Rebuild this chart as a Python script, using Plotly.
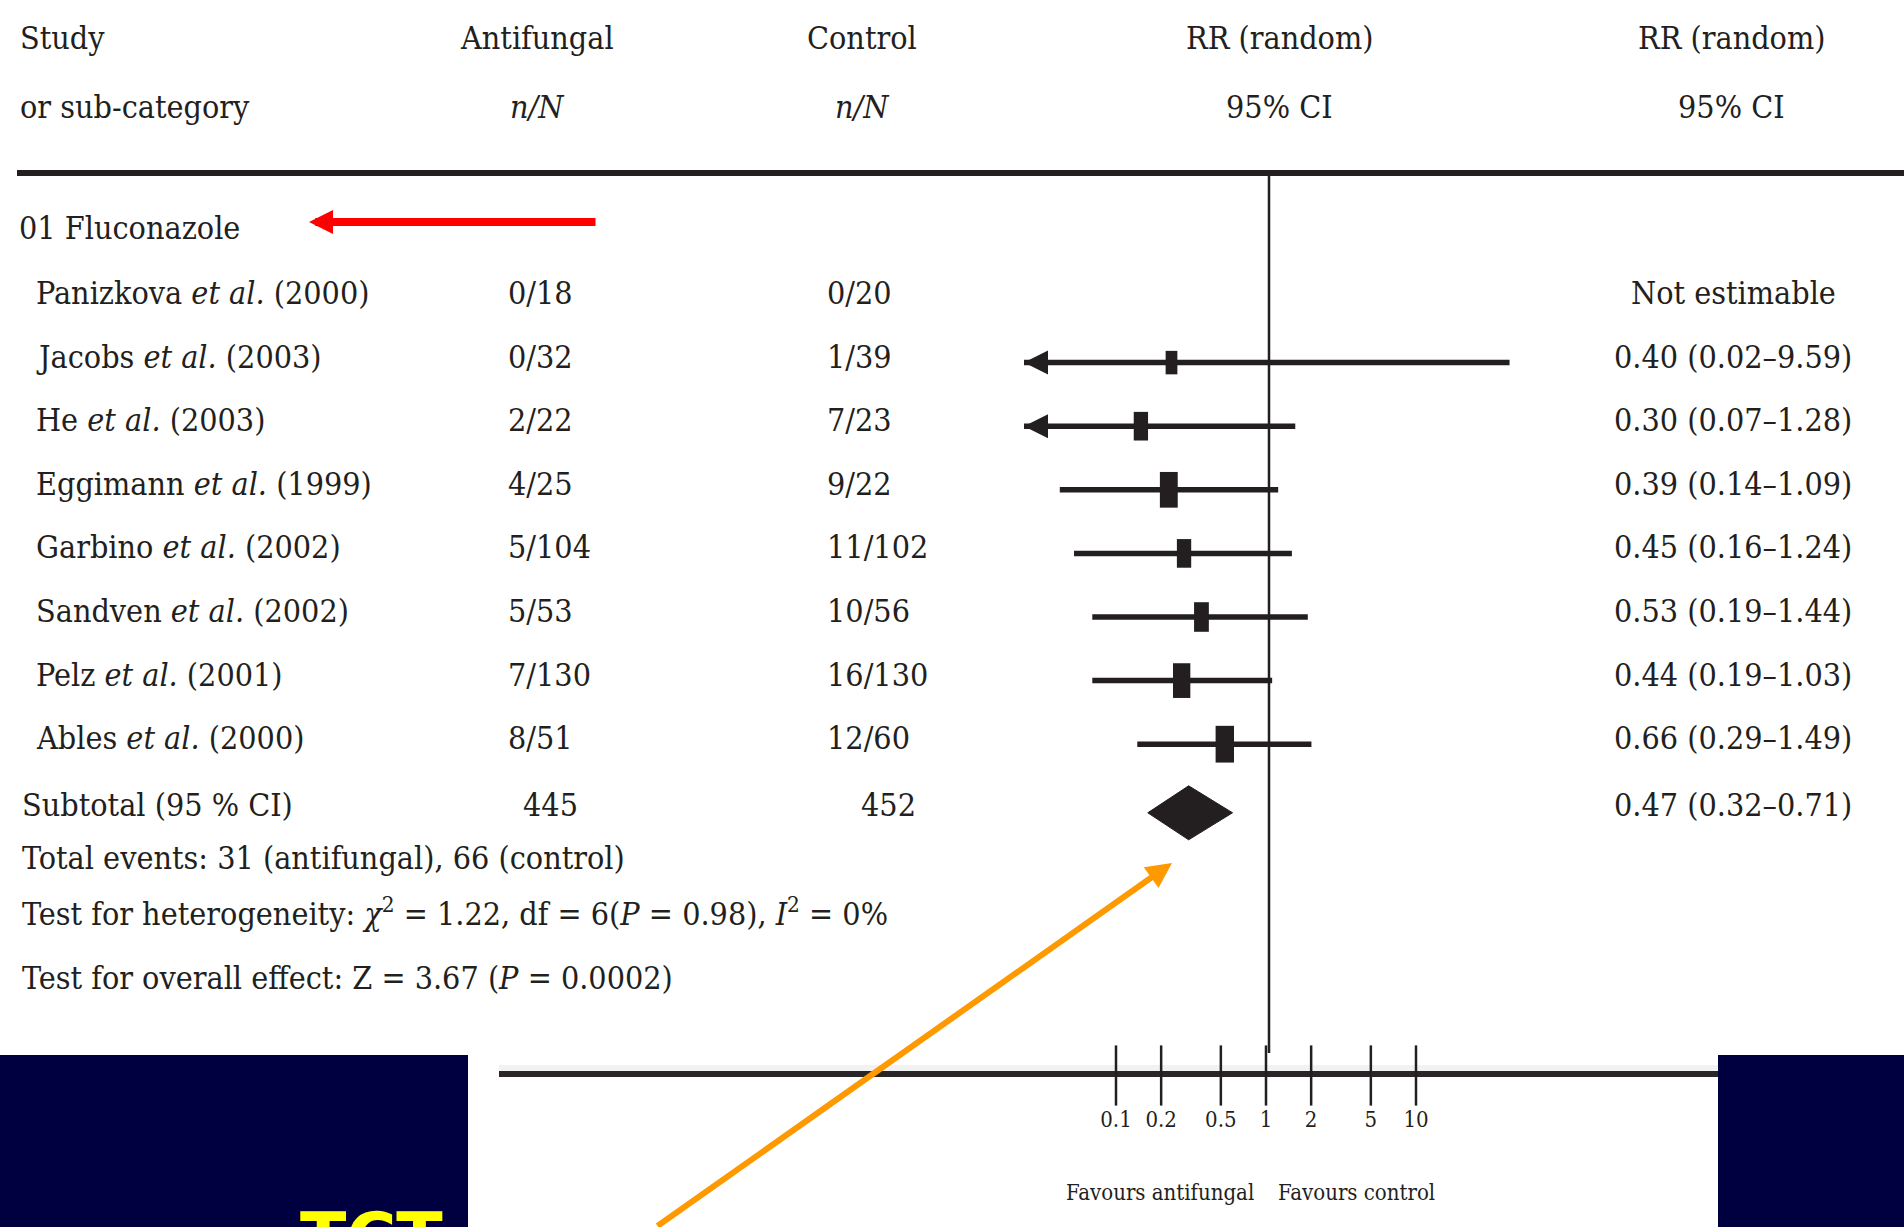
import plotly.graph_objects as go

W, H = 1904, 1227

# ------------------------------------------------------------------ data
group_label = "01 Fluconazole"
study_names = ["Panizkova", "Jacobs", "He", "Eggimann", "Garbino", "Sandven", "Pelz", "Ables"]
study_years = [2000, 2003, 2003, 1999, 2002, 2002, 2001, 2000]
anti_events = [0, 0, 2, 4, 5, 5, 7, 8]
anti_total = [18, 32, 22, 25, 104, 53, 130, 51]
ctrl_events = [0, 1, 7, 9, 11, 10, 16, 12]
ctrl_total = [20, 39, 23, 22, 102, 56, 130, 60]
rr = [None, 0.40, 0.30, 0.39, 0.45, 0.53, 0.44, 0.66]
rr_lo = [None, 0.02, 0.07, 0.14, 0.16, 0.19, 0.19, 0.29]
rr_hi = [None, 9.59, 1.28, 1.09, 1.24, 1.44, 1.03, 1.49]
weights = [0, 8.0, 11.9, 18.5, 11.9, 12.7, 17.5, 19.6]
subtotal_totals = [445, 452]
subtotal_rr = [0.47, 0.32, 0.71]                           # RR, lower, upper
total_events = [31, 66]
heterogeneity = [1.22, 6, 0.98, 0]                         # chi2, df, P, I2
overall_effect = [3.67, "0.0002"]                          # Z, P
axis_ticks = [0.1, 0.2, 0.5, 1, 2, 5, 10]
axis_ticktext = ["0.1", "0.2", "0.5", "1", "2", "5", "10"]
favours_labels = ["Favours antifungal", "Favours control"]
slide_word = "TCT"

# ------------------------------------------------------------------ style / layout
INK = "#231f20"
NAVY = "#000040"
FONT = "DejaVu Serif Condensed, Liberation Serif, serif"
FS = 32
XMIN, XMAX = 0.1, 10
ROW0, STEP = 299, 63.6


def row_y(i):
    return ROW0 + STEP * i


def px(x):
    return x / W


def txt(x, y, s, anchor="left", size=FS, color=INK, family=FONT, yanchor="middle"):
    return dict(x=px(x), y=y, xref="paper", yref="y", text=s, showarrow=False,
                xanchor=anchor, yanchor=yanchor,
                font=dict(family=family, size=size, color=color))


fig = go.Figure()

# line of no effect
fig.add_trace(go.Scatter(x=[1, 1], y=[176, 1053], mode="lines",
                         line=dict(color=INK, width=2.5), hoverinfo="skip", showlegend=False))

# confidence intervals
ci_x, ci_y, arr_x, arr_y = [], [], [], []
for i in range(len(study_names)):
    if rr[i] is None:
        continue
    y = row_y(i)
    ci_x += [max(rr_lo[i], XMIN), min(rr_hi[i], XMAX), None]
    ci_y += [y, y, None]
    if rr_lo[i] < XMIN:
        arr_x.append(XMIN)
        arr_y.append(y)

fig.add_trace(go.Scatter(x=ci_x, y=ci_y, mode="lines", line=dict(color=INK, width=5.5),
                         hoverinfo="skip", showlegend=False))
fig.add_trace(go.Scatter(x=arr_x, y=arr_y, mode="markers", cliponaxis=False,
                         marker=dict(symbol="arrow-left", size=24, color=INK,
                                     line=dict(width=0)),
                         hoverinfo="skip", showlegend=False))

# weight boxes (tall, narrow like the condensed original)
for i in range(len(study_names)):
    if rr[i] is None:
        continue
    h = 8.3 * weights[i] ** 0.5
    y = row_y(i)
    fig.add_trace(go.Scatter(x=[rr[i], rr[i]], y=[y - h / 2, y + h / 2], mode="lines",
                             line=dict(color=INK, width=0.5 * h), cliponaxis=False,
                             hoverinfo="skip", showlegend=False))

# pooled diamond
yc = row_y(8) + 5
r0, l0, h0 = subtotal_rr
fig.add_trace(go.Scatter(x=[l0, r0, h0, r0, l0], y=[yc, yc - 27, yc, yc + 27, yc],
                         mode="lines", fill="toself", fillcolor=INK,
                         line=dict(color=INK, width=1), hoverinfo="skip", showlegend=False))

# bottom scale (pasted axis): tick marks and tick labels drawn on their own log scale
fig.add_trace(go.Scatter(x=axis_ticks, y=[1075.5] * len(axis_ticks), xaxis="x3", yaxis="y",
                         mode="markers", cliponaxis=False,
                         marker=dict(symbol="line-ns", size=43, color=INK,
                                     line=dict(color=INK, width=2.5)),
                         hoverinfo="skip", showlegend=False))
fig.add_trace(go.Scatter(x=axis_ticks, y=[1121] * len(axis_ticks), xaxis="x3", yaxis="y",
                         mode="text", text=axis_ticktext, cliponaxis=False,
                         textposition="middle center",
                         textfont=dict(family=FONT, size=22, color=INK),
                         hoverinfo="skip", showlegend=False))

# ------------------------------------------------------------------ shapes
shapes = [
    dict(type="rect", xref="paper", yref="y", x0=px(17), x1=1.0, y0=170, y1=176,
         fillcolor=INK, line=dict(width=0), layer="below"),
    dict(type="rect", xref="paper", yref="y", x0=px(499), x1=px(1718), y0=1065, y1=1071,
         fillcolor="#f2f2f2", line=dict(width=0), layer="below"),
    dict(type="rect", xref="paper", yref="y", x0=px(499), x1=px(1718), y0=1071, y1=1077,
         fillcolor="#2a2627", line=dict(width=0), layer="below"),
    dict(type="rect", xref="paper", yref="y", x0=0, x1=px(468), y0=1055, y1=H,
         fillcolor=NAVY, line=dict(width=0), layer="below"),
    dict(type="rect", xref="paper", yref="y", x0=px(1718), x1=1.0, y0=1055, y1=H,
         fillcolor=NAVY, line=dict(width=0), layer="below"),
]

# ------------------------------------------------------------------ annotations
ann = []
# header
ann += [txt(18, 38, "Study"), txt(18, 107, "or sub-category"),
        txt(537, 38, "Antifungal", "center"), txt(537, 107, "<i>n/N</i>", "center"),
        txt(862, 38, "Control", "center"), txt(862, 107, "<i>n/N</i>", "center"),
        txt(1279, 38, "RR (random)", "center"), txt(1279, 107, "95% CI", "center"),
        txt(1731, 38, "RR (random)", "center"), txt(1731, 107, "95% CI", "center")]
ann.append(txt(17, 228, group_label))

for i, name in enumerate(study_names):
    y = row_y(i) - 6
    ann.append(txt(34, y, f"{name} <i>et al.</i> ({study_years[i]})"))
    ann.append(txt(506, y, f"{anti_events[i]}/{anti_total[i]}"))
    ann.append(txt(825, y, f"{ctrl_events[i]}/{ctrl_total[i]}"))
    if rr[i] is None:
        ann.append(txt(1733, y, "Not estimable", "center"))
    else:
        ann.append(txt(1733, y, f"{rr[i]:.2f} ({rr_lo[i]:.2f}–{rr_hi[i]:.2f})", "center"))

ys = row_y(8) - 3
ann += [txt(20, ys, "Subtotal (95 % CI)"),
        txt(580, ys, f"{subtotal_totals[0]}", "right"),
        txt(918, ys, f"{subtotal_totals[1]}", "right"),
        txt(1733, ys, f"{r0:.2f} ({l0:.2f}–{h0:.2f})", "center")]
ann.append(txt(20, 858, f"Total events: {total_events[0]} (antifungal), {total_events[1]} (control)"))
chi2, df, p_het, i2 = heterogeneity
ann.append(txt(20, 912, f"Test for heterogeneity: <i>χ</i><sup>2</sup> = {chi2:.2f}, df = {df}"
                        f"(<i>P</i> = {p_het:.2f}), <i>I</i><sup>2</sup> = {i2}%"))
ann.append(txt(20, 978, f"Test for overall effect: Z = {overall_effect[0]:.2f} "
                        f"(<i>P</i> = {overall_effect[1]})"))

# bottom scale captions
ann.append(txt(1256, 1192, favours_labels[0], "right", size=22))
ann.append(txt(1276, 1192, favours_labels[1], "left", size=22))

# slide word (cut by the bottom edge)
ann.append(txt(371, 1196, slide_word, "center", size=68, color="#ffff00",
               family="DejaVu Sans, sans-serif", yanchor="top"))
ann[-1]["font"]["weight"] = "bold"

# red arrow
ann.append(dict(x=px(309), y=222, xref="paper", yref="y", text="", showarrow=True,
                ax=288, ay=0, arrowhead=2, arrowsize=0.6, arrowwidth=8,
                arrowcolor="#ff0000"))
# orange arrow
ann.append(dict(x=px(1172), y=863, xref="paper", yref="y", text="", showarrow=True,
                ax=656 - 1172, ay=1240 - 863, arrowhead=2, arrowsize=0.85, arrowwidth=6,
                arrowcolor="#ff9900"))

fig.update_layout(
    width=W, height=H, margin=dict(l=0, r=0, t=0, b=0, autoexpand=False),
    paper_bgcolor="white", plot_bgcolor="rgba(0,0,0,0)",
    hovermode=False, showlegend=False,
    xaxis=dict(type="log", range=[-1, 1], domain=[px(1024), px(1514)], visible=False,
               fixedrange=True),
    xaxis3=dict(type="log", range=[-1, 1], domain=[px(1116), px(1416)], anchor="y",
                visible=False, fixedrange=True),
    yaxis=dict(range=[H, 0], domain=[0, 1], visible=False, fixedrange=True),
    shapes=shapes, annotations=ann,
)

fig.write_html("out.html", config={"displayModeBar": False},
               post_script="document.body.style.margin='0';"
                           "document.body.style.overflow='hidden';")
